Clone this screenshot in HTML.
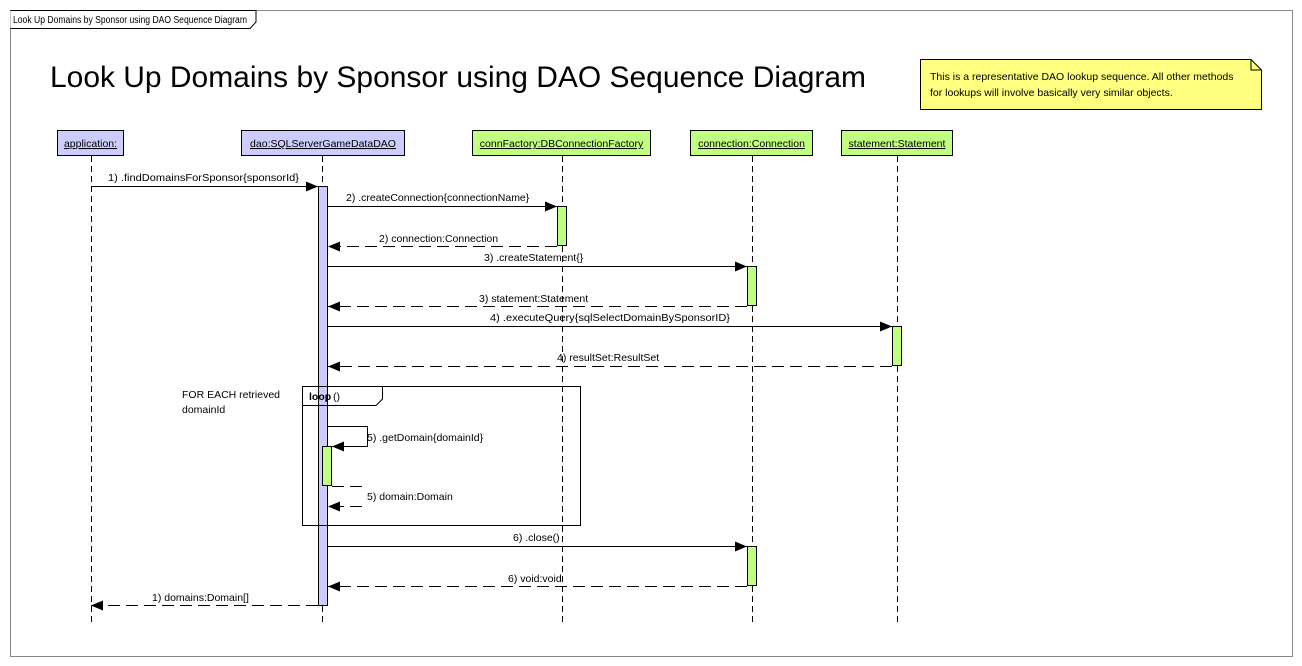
<!DOCTYPE html>
<html><head><meta charset="utf-8"><style>
html,body{margin:0;padding:0;background:#fff;}
svg{display:block;}
text{font-family:"Liberation Sans",Arial,sans-serif;font-size:10.5px;fill:#000;}
</style></head><body>
<svg width="1302" height="666" viewBox="0 0 1302 666" xmlns="http://www.w3.org/2000/svg">
<defs>
<marker id="a" markerWidth="12" markerHeight="10" refX="12" refY="5" orient="auto" markerUnits="userSpaceOnUse"><path d="M0,0 L12,5 L0,10 z" fill="#000"/></marker>
</defs>
<rect x="10.5" y="10.5" width="1282" height="646" fill="#fff" stroke="#888"/>
<path d="M10.5,10.5 H256 V22 L250,28.5 H10.5" fill="#fff" stroke="#000"/>
<text x="13" y="23" textLength="234" lengthAdjust="spacingAndGlyphs" style="font-size:10px">Look Up Domains by Sponsor using DAO Sequence Diagram</text>
<text x="50" y="87" style="font-size:30px" textLength="816" lengthAdjust="spacingAndGlyphs">Look Up Domains by Sponsor using DAO Sequence Diagram</text>
<path d="M920.5,59.5 H1251 L1261.5,70 V109.5 H920.5 z" fill="#ffff80" stroke="#000"/>
<path d="M1251,59.5 V70 H1261.5" fill="none" stroke="#000"/>
<text x="930" y="80">This is a representative DAO lookup sequence. All other methods</text>
<text x="930" y="96">for lookups will involve basically very similar objects.</text>
<g stroke="#000" stroke-dasharray="6,4">
<line x1="91.5" y1="156" x2="91.5" y2="626"/>
<line x1="322.5" y1="156" x2="322.5" y2="626"/>
<line x1="562.5" y1="156" x2="562.5" y2="626"/>
<line x1="752.5" y1="156" x2="752.5" y2="626"/>
<line x1="897.5" y1="156" x2="897.5" y2="626"/>
</g>
<g stroke="#000">
<rect x="57.5" y="130.5" width="66" height="25" fill="#ccccff"/>
<rect x="241.5" y="130.5" width="163" height="25" fill="#ccccff"/>
<rect x="472.5" y="130.5" width="178" height="25" fill="#c0ff80"/>
<rect x="690.5" y="130.5" width="122" height="25" fill="#c0ff80"/>
<rect x="841.5" y="130.5" width="111" height="25" fill="#c0ff80"/>
</g>
<text x="90.5" y="147" text-anchor="middle" text-decoration="underline">application:</text>
<text x="323" y="147" text-anchor="middle" text-decoration="underline">dao:SQLServerGameDataDAO</text>
<text x="561.5" y="147" text-anchor="middle" text-decoration="underline">connFactory:DBConnectionFactory</text>
<text x="751.5" y="147" text-anchor="middle" text-decoration="underline">connection:Connection</text>
<text x="897" y="147" text-anchor="middle" text-decoration="underline">statement:Statement</text>
<g stroke="#000">
<rect x="318.5" y="186.5" width="9" height="419" fill="#ccccff"/>
<rect x="557.5" y="206.5" width="9" height="39" fill="#c0ff80"/>
<rect x="747.5" y="266.5" width="9" height="39" fill="#c0ff80"/>
<rect x="892.5" y="326.5" width="9" height="39" fill="#c0ff80"/>
<rect x="322.5" y="446.5" width="9" height="39" fill="#c0ff80"/>
<rect x="747.5" y="546.5" width="9" height="39" fill="#c0ff80"/>
</g>
<rect x="302.5" y="386.5" width="278" height="139" fill="none" stroke="#000"/>
<path d="M302.5,405.5 H376 L382.5,399 V386.5" fill="none" stroke="#000"/>
<text x="309" y="400" style="font-weight:bold">loop</text><text x="333" y="400">()</text>
<text x="182" y="398">FOR EACH retrieved</text>
<text x="182" y="413">domainId</text>
<g stroke="#000" fill="none">
<line x1="92" y1="186.5" x2="318" y2="186.5" marker-end="url(#a)"/>
<line x1="328" y1="206.5" x2="557" y2="206.5" marker-end="url(#a)"/>
<line x1="557" y1="246.5" x2="328" y2="246.5" stroke-dasharray="12,6" marker-end="url(#a)"/>
<line x1="328" y1="266.5" x2="747" y2="266.5" marker-end="url(#a)"/>
<line x1="747" y1="306.5" x2="328" y2="306.5" stroke-dasharray="12,6" marker-end="url(#a)"/>
<line x1="328" y1="326.5" x2="892" y2="326.5" marker-end="url(#a)"/>
<line x1="892" y1="366.5" x2="328" y2="366.5" stroke-dasharray="12,6" marker-end="url(#a)"/>
<path d="M328,426.5 H367.5 V446.5 H332" marker-end="url(#a)"/>
<path d="M332,486.5 H362 M362,506.5 H328" stroke-dasharray="12,6" marker-end="url(#a)"/>
<line x1="328" y1="546.5" x2="747" y2="546.5" marker-end="url(#a)"/>
<line x1="747" y1="586.5" x2="328" y2="586.5" stroke-dasharray="12,6" marker-end="url(#a)"/>
<line x1="318" y1="605.5" x2="91" y2="605.5" stroke-dasharray="12,6" marker-end="url(#a)"/>
</g>
<text x="108" y="181" textLength="191" lengthAdjust="spacingAndGlyphs">1) .findDomainsForSponsor{sponsorId}</text>
<text x="346" y="201">2) .createConnection{connectionName}</text>
<text x="379" y="242">2) connection:Connection</text>
<text x="484" y="261">3) .createStatement{}</text>
<text x="479" y="302">3) statement:Statement</text>
<text x="490" y="321" textLength="240" lengthAdjust="spacingAndGlyphs">4) .executeQuery{sqlSelectDomainBySponsorID}</text>
<text x="557" y="361">4) resultSet:ResultSet</text>
<text x="367" y="441">5) .getDomain{domainId}</text>
<text x="367" y="500">5) domain:Domain</text>
<text x="513" y="541">6) .close()</text>
<text x="508" y="582">6) void:void</text>
<text x="152" y="601">1) domains:Domain[]</text>
</svg>
</body></html>
